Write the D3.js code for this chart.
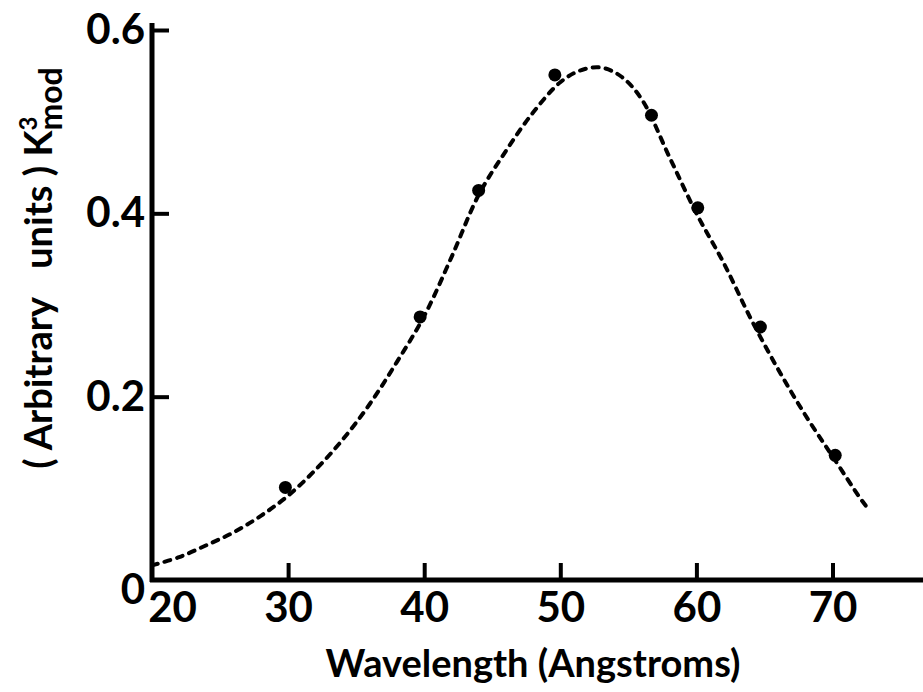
<!DOCTYPE html>
<html>
<head>
<meta charset="utf-8">
<script src="https://cdn.jsdelivr.net/npm/d3@7"></script>
<style>
  body { margin: 0; background: #fff; }
  svg text { font-family: Lato, "Open Sans", sans-serif; font-weight: bold; fill: #000; }
</style>
</head>
<body>
<div id="chart"></div>
<script>
// Measured points: wavelength (Angstroms) vs K^3 mod (arbitrary units)
const pointX = [29.8, 39.7, 44.0, 49.6, 56.7, 60.1, 64.7, 70.2];
const pointY = [0.101, 0.287, 0.425, 0.551, 0.507, 0.406, 0.276, 0.136];

// Dashed fitted curve
const curveX = [20, 22, 24, 26, 28, 30, 32, 34, 36, 38, 40, 42, 44, 46, 48, 50, 51.5, 53, 54.5, 56, 58, 60, 62, 64, 66, 68, 70, 72, 72.5];
const curveY = [0.016, 0.025, 0.038, 0.052, 0.070, 0.092, 0.120, 0.153, 0.192, 0.238, 0.288, 0.352, 0.420, 0.468, 0.510, 0.543, 0.556, 0.559, 0.549, 0.524, 0.462, 0.400, 0.346, 0.285, 0.230, 0.180, 0.135, 0.090, 0.080];

const xTicks = [20, 30, 40, 50, 60, 70];
const yTicks = [0, 0.2, 0.4, 0.6];
const yTickLabels = ["0", "0.2", "0.4", "0.6"];

const width = 923, height = 692;
const margin = {top: 30, right: 0, bottom: 112, left: 152};

const svg = d3.select("#chart")
    .append("svg")
    .attr("width", width)
    .attr("height", height);

// Scales
const x = d3.scaleLinear()
    .domain([20, 20 + (width - margin.left) / 13.61])
    .range([margin.left, width - margin.right]);

const y = d3.scaleLinear()
    .domain([0, 0.6])
    .range([height - margin.bottom, margin.top]);

const axisColor = "#000";

// X axis
const xAxis = svg.append("g")
    .attr("transform", `translate(0,${y(0)})`)
    .call(d3.axisBottom(x).tickValues(xTicks).tickSize(-17).tickFormat(d3.format("d")));

xAxis.select(".domain").attr("stroke", axisColor).attr("stroke-width", 5)
    .attr("d", `M${margin.left - 2},0H${width}`);
xAxis.selectAll(".tick line").attr("stroke", axisColor).attr("stroke-width", 4);
xAxis.selectAll(".tick text")
    .attr("y", 12)
    .attr("dy", "0.71em")
    .style("font-size", "42px")
    .attr("dx", d => d === 20 ? 20 : 0);

// Y axis
const yAxis = svg.append("g")
    .attr("transform", `translate(${x(20)},0)`)
    .call(d3.axisLeft(y).tickValues(yTicks).tickSize(-17)
        .tickFormat((d, i) => yTickLabels[i]));

yAxis.select(".domain").attr("stroke", axisColor).attr("stroke-width", 5)
    .attr("d", `M0,${margin.top - 7}V${y(0) + 2}`);
yAxis.selectAll(".tick line").attr("stroke", axisColor).attr("stroke-width", 4);
yAxis.selectAll(".tick text")
    .attr("x", -7)
    .style("font-size", "42px")
    .attr("dy", d => d === 0 ? "0.55em" : "0.32em");

// the origin tick would hide the axes corner, drop it
yAxis.selectAll(".tick").filter(d => d === 0).select("line").remove();
xAxis.selectAll(".tick").filter(d => d === 20).select("line").remove();

// X axis label
svg.append("text")
    .attr("x", 533)
    .attr("y", 677)
    .attr("text-anchor", "middle")
    .style("font-size", "38px")
    .text("Wavelength (Angstroms)");

// Y axis label
const yLabel = svg.append("text")
    .attr("transform", `translate(52,${268}) rotate(-90)`)
    .attr("text-anchor", "middle")
    .style("font-size", "38px");
yLabel.append("tspan").text("( Arbitrary\u2002 units ) K");
yLabel.append("tspan").attr("dy", -15).style("font-size", "24px").text("3");
yLabel.append("tspan").attr("dx", -14).attr("dy", 25).style("font-size", "32px").text("mod");

// Dashed curve
const curveData = curveX.map((d, i) => ({x: d, y: curveY[i]}));
const line = d3.line()
    .x(d => x(d.x))
    .y(d => y(d.y))
    .curve(d3.curveCatmullRom);

svg.append("path")
    .datum(curveData)
    .attr("fill", "none")
    .attr("stroke", "#000")
    .attr("stroke-width", 4)
    .attr("stroke-linecap", "round")
    .attr("stroke-dasharray", "6,7")
    .attr("d", line);

// Data points
svg.selectAll(".pt")
    .data(pointX.map((d, i) => ({x: d, y: pointY[i]})))
    .enter()
    .append("circle")
    .attr("class", "pt")
    .attr("cx", d => x(d.x))
    .attr("cy", d => y(d.y))
    .attr("r", 6.5)
    .attr("fill", "#000");
</script>
</body>
</html>
